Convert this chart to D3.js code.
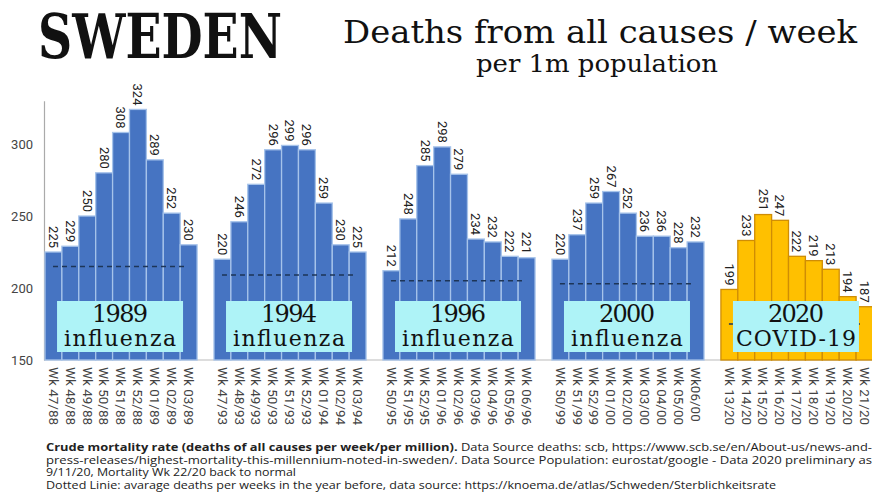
<!DOCTYPE html>
<html>
<head>
<meta charset="utf-8">
<script src="https://cdn.jsdelivr.net/npm/d3@7"></script>
<style>
  body { margin: 0; background: #fff; }
  svg { display: block; }
</style>
</head>
<body>
<div id="chart"></div>
<script>
// Chart values
const groups = ["1989", "1994", "1996", "2000", "2020"];
const groupTitles = ["1989", "1994", "1996", "2000", "2020"];
const groupSubtitles = ["influenza", "influenza", "influenza", "influenza", "COVID-19"];

const weeks1989 = ["Wk 47/88", "Wk 48/88", "Wk 49/88", "Wk 50/88", "Wk 51/88", "Wk 52/88", "Wk 01/89", "Wk 02/89", "Wk 03/89"];
const weeks1994 = ["Wk 47/93", "Wk 48/93", "Wk 49/93", "Wk 50/93", "Wk 51/93", "Wk 52/93", "Wk 01/94", "Wk 02/94", "Wk 03/94"];
const weeks1996 = ["Wk 50/95", "Wk 51/95", "Wk 52/95", "Wk 01/96", "Wk 02/96", "Wk 03/96", "Wk 04/96", "Wk 05/96", "Wk 06/96"];
const weeks2000 = ["Wk 50/99", "Wk 51/99", "Wk 52/99", "Wk 01/00", "Wk 02/00", "Wk 03/00", "Wk 04/00", "Wk 05/00", "Wk06/00"];
const weeks2020 = ["Wk 13/20", "Wk 14/20", "Wk 15/20", "Wk 16/20", "Wk 17/20", "Wk 18/20", "Wk 19/20", "Wk 20/20", "Wk 21/20"];

const deaths1989 = [225, 229, 250, 280, 308, 324, 289, 252, 230];
const deaths1994 = [220, 246, 272, 296, 299, 296, 259, 230, 225];
const deaths1996 = [212, 248, 285, 298, 279, 234, 232, 222, 221];
const deaths2000 = [220, 237, 259, 267, 252, 236, 236, 228, 232];
const deaths2020 = [199, 233, 251, 247, 222, 219, 213, 194, 187];

// dotted line: average of the year before
const avgYearBefore = [215, 209, 205, 203, 175];

const yTicks = [150, 200, 250, 300];

const footerLines = [
  "press-releases/highest-mortality-this-millennium-noted-in-sweden/. Data Source Population: eurostat/google -  Data 2020 preliminary as",
  "9/11/20, Mortality Wk 22/20 back to normal",
  "Dotted Linie: avarage deaths per weeks in the year before, data source: https://knoema.de/atlas/Schweden/Sterblichkeitsrate"
];
const footerWidths = [826, 250, 730];

const allWeeks = [weeks1989, weeks1994, weeks1996, weeks2000, weeks2020];
const allDeaths = [deaths1989, deaths1994, deaths1996, deaths2000, deaths2020];

const width = 872, height = 503;
const serif = "'DejaVu Serif', 'Liberation Serif', serif";

const svg = d3.select("#chart")
  .append("svg")
  .attr("width", width)
  .attr("height", height);

// scales
const xGroup = d3.scaleBand()
  .domain(groups)
  .range([45, 873])
  .paddingInner(0.1)
  .paddingOuter(0);

const xWeek = d3.scaleBand()
  .domain(d3.range(9))
  .range([0, xGroup.bandwidth()]);

const y = d3.scaleLinear()
  .domain([150, 330])
  .range([360, 100.8]);

// titles
svg.append("text")
  .attr("x", 38).attr("y", 58)
  .attr("textLength", 244).attr("lengthAdjust", "spacingAndGlyphs")
  .style("font-family", serif).style("font-size", "62px").style("font-weight", "bold")
  .style("fill", "#111")
  .text("SWEDEN");

svg.append("text")
  .attr("x", 343).attr("y", 43)
  .attr("textLength", 514).attr("lengthAdjust", "spacingAndGlyphs")
  .style("font-family", serif).style("font-size", "31px")
  .style("fill", "#111")
  .text("Deaths from all causes / week");

svg.append("text")
  .attr("x", 597).attr("y", 72)
  .attr("text-anchor", "middle")
  .attr("textLength", 242).attr("lengthAdjust", "spacingAndGlyphs")
  .style("font-family", serif).style("font-size", "24px")
  .style("fill", "#111")
  .text("per 1m population");

// axes
svg.append("line")
  .attr("x1", 44).attr("x2", 872)
  .attr("y1", y(150)).attr("y2", y(150))
  .attr("stroke", "#bbb").attr("stroke-width", 1.2);

const yAxis = svg.append("g")
  .attr("transform", "translate(44,0)")
  .call(d3.axisLeft(y).tickValues(yTicks).tickSize(0).tickPadding(11));
yAxis.select(".domain").attr("stroke", "#aaa").attr("stroke-width", 1.2);
yAxis.selectAll("text")
  .style("font-family", "Roboto").style("font-size", "13px").style("fill", "#444");

// one group per period
groups.forEach((g, gi) => {
  const x0 = xGroup(g);
  const covid = gi === 4;
  const data = allDeaths[gi].map((v, i) => ({ v: v, wk: allWeeks[gi][i], i: i }));
  const grp = svg.append("g").attr("transform", `translate(${x0},0)`);

  grp.selectAll("rect")
    .data(data)
    .enter()
    .append("rect")
      .attr("x", d => xWeek(d.i))
      .attr("y", d => y(d.v))
      .attr("width", xWeek.bandwidth())
      .attr("height", d => y(150) - y(d.v))
      .attr("fill", covid ? "#ffc000" : "#4674c2")
      .attr("stroke", covid ? "#cf8d05" : "#a6c3ea")
      .attr("stroke-width", 1.3);

  // value labels, rotated
  grp.selectAll(".val")
    .data(data)
    .enter()
    .append("text")
      .attr("class", "val")
      .attr("transform", d => `translate(${xWeek(d.i) + xWeek.bandwidth() / 2},${y(d.v) - 4}) rotate(90)`)
      .attr("text-anchor", "end")
      .attr("dy", "0.35em")
      .style("font-family", "Roboto").style("font-size", "13px").style("fill", "#222")
      .text(d => d.v);

  // week labels below
  grp.selectAll(".wk")
    .data(data)
    .enter()
    .append("text")
      .attr("class", "wk")
      .attr("transform", d => `translate(${xWeek(d.i) + xWeek.bandwidth() / 2},367) rotate(90)`)
      .attr("dy", "0.35em")
      .style("font-family", "Roboto").style("font-size", "13.5px").style("fill", "#444")
      .text(d => d.wk);

  // dotted line of the year before
  grp.append("line")
    .attr("x1", xWeek(0) + 8).attr("x2", xWeek(8) + xWeek.bandwidth() - 10)
    .attr("y1", y(avgYearBefore[gi])).attr("y2", y(avgYearBefore[gi]))
    .attr("stroke", "#1d3557").attr("stroke-width", 1.5)
    .attr("stroke-dasharray", "5,4");

  // label box
  const cx = xGroup.bandwidth() / 2 - 1;
  grp.append("rect")
    .attr("x", cx - 63).attr("y", 301)
    .attr("width", 126).attr("height", 51)
    .attr("fill", "#aef3f7");

  grp.append("text")
    .attr("x", cx).attr("y", 322)
    .attr("text-anchor", "middle")
    .attr("textLength", 56).attr("lengthAdjust", "spacing")
    .style("font-family", serif).style("font-size", "24px").style("fill", "#111")
    .text(groupTitles[gi]);

  grp.append("text")
    .attr("x", cx).attr("y", 346)
    .attr("text-anchor", "middle")
    .attr("textLength", covid ? 120 : 112).attr("lengthAdjust", "spacing")
    .style("font-family", serif).style("font-size", "22px").style("fill", "#111")
    .text(groupSubtitles[gi]);
});

// footer notes
const foot = svg.append("text")
  .attr("x", 46).attr("y", 451)
  .attr("textLength", 826).attr("lengthAdjust", "spacingAndGlyphs")
  .style("font-family", "'Open Sans'").style("font-size", "10.5px").style("fill", "#222");
foot.append("tspan").style("font-weight", "bold")
  .text("Crude mortality rate (deaths of all causes per week/per million).");
foot.append("tspan")
  .text(" Data Source deaths: scb, https://www.scb.se/en/About-us/news-and-");

footerLines.forEach((t, i) => {
  svg.append("text")
    .attr("x", 46).attr("y", 463.5 + i * 12.5)
    .attr("textLength", footerWidths[i]).attr("lengthAdjust", "spacingAndGlyphs")
    .style("font-family", "'Open Sans'").style("font-size", "10.5px").style("fill", "#222")
    .text(t);
});
</script>
</body>
</html>
